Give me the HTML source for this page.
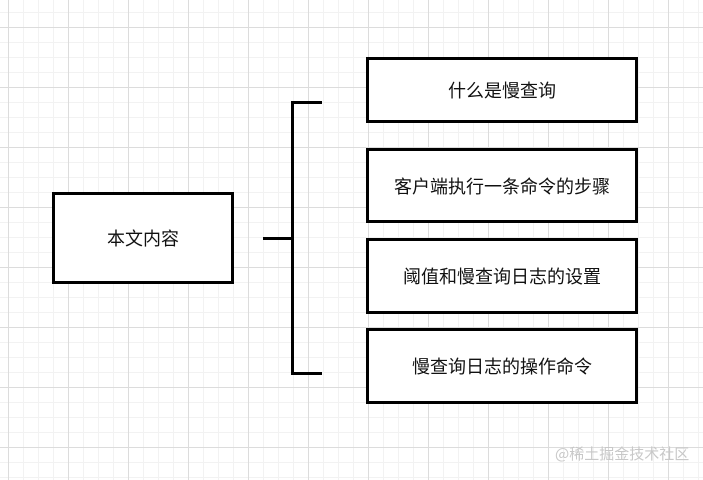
<!DOCTYPE html>
<html><head><meta charset="utf-8"><style>
body{margin:0;width:703px;height:480px;overflow:hidden;background:#fff;font-family:"Noto Sans CJK SC",sans-serif;}
.g{position:absolute;left:0;top:0;width:703px;height:480px;
background-image:
linear-gradient(to right,#dcdcdc 1px,transparent 1px),
linear-gradient(to bottom,#dcdcdc 1px,transparent 1px),
linear-gradient(to right,#f2f2f2 1px,transparent 1px),
linear-gradient(to bottom,#f2f2f2 1px,transparent 1px);
background-size:60px 60px,60px 60px,15px 15px,15px 15px;
background-position:8px 27px,8px 27px,8px 12px,8px 12px;}
.b{position:absolute;border:3px solid #000;background:#fff;box-sizing:border-box;display:flex;align-items:center;justify-content:center;font-size:18px;color:#111;}
.l{position:absolute;background:#000;}
.w{position:absolute;left:555px;top:443px;font-size:15px;color:#c8c8c8;}
</style></head><body>
<div class="g"></div>
<div class="b" style="left:52px;top:192px;width:182px;height:92px">本文内容</div>
<div class="b" style="left:366px;top:57px;width:272px;height:66px">什么是慢查询</div>
<div class="b" style="left:366px;top:148px;width:272px;height:75px">客户端执行一条命令的步骤</div>
<div class="b" style="left:366px;top:238px;width:272px;height:76px">阈值和慢查询日志的设置</div>
<div class="b" style="left:366px;top:328px;width:272px;height:76px">慢查询日志的操作命令</div>
<div class="l" style="left:263px;top:237px;width:30px;height:3px"></div>
<div class="l" style="left:291px;top:101px;width:3px;height:274px"></div>
<div class="l" style="left:291px;top:101px;width:31px;height:3px"></div>
<div class="l" style="left:291px;top:372px;width:31px;height:3px"></div>
<div class="w">@稀土掘金技术社区</div>
</body></html>
